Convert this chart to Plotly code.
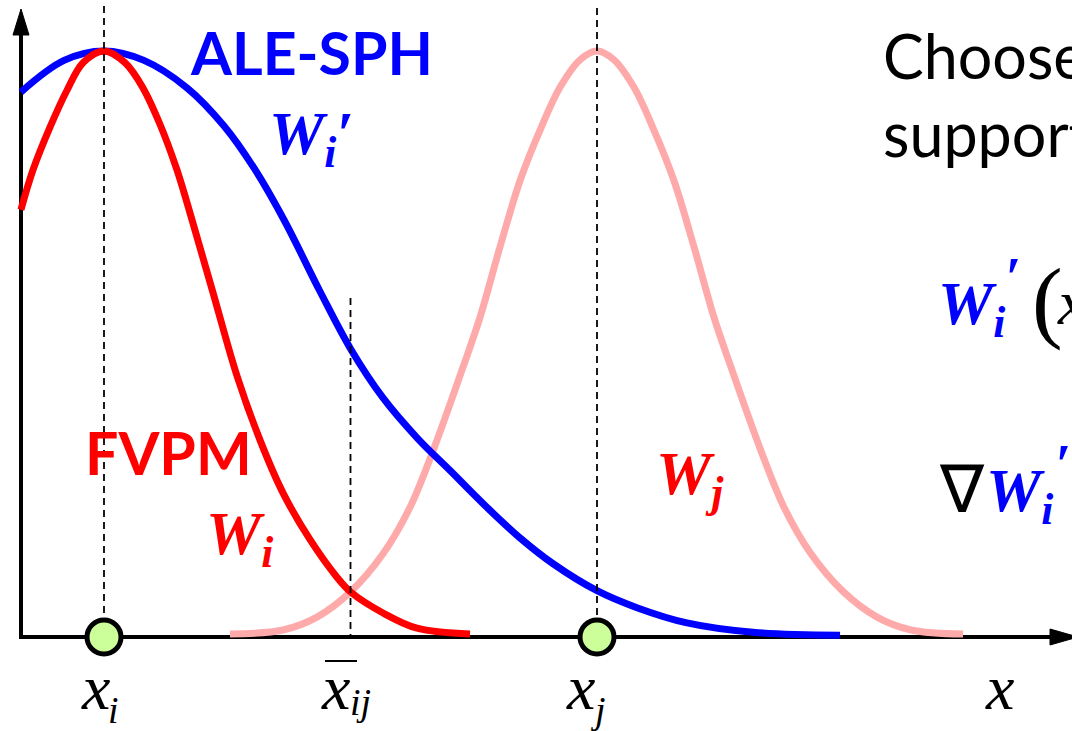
import plotly.graph_objects as go

# Node positions on the x axis (in units of half the particle spacing)
XI, XBAR, XJ = 0.0, 1.0, 2.0

# FVPM kernel W_i centred on x_i
fvpm_wi_x = [-0.337, -0.288, -0.219, -0.150, -0.085, 0.0, 0.085, 0.158, 0.227, 0.296,
             0.361, 0.442, 0.540, 0.633, 0.726, 0.836, 0.945, 1.0, 1.132, 1.270, 1.485]
fvpm_wi_y = [0.729, 0.797, 0.870, 0.933, 0.980, 1.0, 0.980, 0.937, 0.875, 0.797,
             0.706, 0.588, 0.445, 0.336, 0.246, 0.166, 0.102, 0.077, 0.041, 0.015, 0.005]

# FVPM kernel W_j centred on x_j
fvpm_wj_x = [0.511, 0.726, 0.864, 1.0, 1.132, 1.241, 1.335, 1.456, 1.525, 1.606,
             1.688, 1.769, 1.850, 1.931, 2.0, 2.069, 2.150, 2.231, 2.312, 2.394,
             2.475, 2.544, 2.665, 2.759, 2.868, 3.0, 3.136, 3.274, 3.485]
fvpm_wj_y = [0.005, 0.012, 0.034, 0.077, 0.142, 0.221, 0.318, 0.460, 0.545, 0.665,
             0.779, 0.865, 0.938, 0.985, 1.0, 0.985, 0.938, 0.865, 0.779, 0.665,
             0.545, 0.460, 0.318, 0.221, 0.142, 0.077, 0.034, 0.012, 0.005]

# ALE-SPH kernel W_i' (wider support) centred on x_i
alesph_wi_x = [-0.337, -0.162, 0.0, 0.162, 0.337, 0.487, 0.609, 0.730, 0.876, 1.0,
               1.132, 1.270, 1.404, 1.554, 1.688, 1.822, 2.0, 2.162, 2.365, 2.633, 2.986]
alesph_wi_y = [0.930, 0.984, 1.0, 0.984, 0.937, 0.872, 0.800, 0.712, 0.590, 0.492,
               0.408, 0.340, 0.284, 0.221, 0.169, 0.125, 0.079, 0.050, 0.024, 0.008, 0.003]

node_x = [XI, XJ]
node_y = [0.0, 0.0]

BLUE = "#0000FF"
RED = "#FF0000"
PINK = "#FFAAAA"
NODE_FILL = "#CCFF99"
SANS = "Lato"
SERIF = "Liberation Serif"

W, H = 1072, 731
X_RANGE = [-104 / 246.5, 968 / 246.5]
Y_RANGE = [-(H - 637) / 586, 637 / 586]


def px(x):
    return x / W


def py(y):
    return 1 - y / H


fig = go.Figure()

curve_style = dict(mode="lines", line_shape="spline", hoverinfo="skip", showlegend=False)
fig.add_trace(go.Scatter(x=fvpm_wj_x, y=fvpm_wj_y, line=dict(color=PINK, width=7, smoothing=1.0), **curve_style))
fig.add_trace(go.Scatter(x=alesph_wi_x, y=alesph_wi_y, line=dict(color=BLUE, width=7, smoothing=1.0), **curve_style))
fig.add_trace(go.Scatter(x=fvpm_wi_x, y=fvpm_wi_y, line=dict(color=RED, width=7, smoothing=1.0), **curve_style))

fig.add_trace(go.Scatter(
    x=node_x, y=node_y, mode="markers", hoverinfo="skip", showlegend=False,
    marker=dict(size=34, color=NODE_FILL, line=dict(color="black", width=5)),
))

shapes = []
# Coordinate axes with arrowheads
shapes.append(dict(type="line", xref="paper", yref="paper", layer="below",
                   x0=px(21), x1=px(21), y0=py(639), y1=py(32),
                   line=dict(color="black", width=4)))
shapes.append(dict(type="path", xref="paper", yref="paper", layer="below",
                   path=f"M {px(21)},{py(9)} L {px(13)},{py(35)} L {px(29)},{py(35)} Z",
                   fillcolor="black", line=dict(color="black", width=1)))
shapes.append(dict(type="line", xref="paper", yref="paper", layer="below",
                   x0=px(19), x1=px(1052), y0=py(637), y1=py(637),
                   line=dict(color="black", width=4)))
shapes.append(dict(type="path", xref="paper", yref="paper", layer="below",
                   path=f"M {px(1078)},{py(637)} L {px(1050)},{py(629)} L {px(1050)},{py(645)} Z",
                   fillcolor="black", line=dict(color="black", width=1)))

# Dashed guides through the nodes and the midpoint
dash = dict(color="black", width=1.8, dash="7px,5px")
shapes.append(dict(type="line", xref="x", yref="paper", x0=XI, x1=XI, y0=py(6), y1=py(616), line=dash))
shapes.append(dict(type="line", xref="x", yref="paper", x0=XJ, x1=XJ, y0=py(8), y1=py(616), line=dash))
shapes.append(dict(type="line", xref="x", yref="paper", x0=XBAR, x1=XBAR, y0=py(298), y1=py(637), line=dash))

# Overbar of the midpoint label
shapes.append(dict(type="line", xref="paper", yref="paper", x0=px(325), x1=px(357),
                   y0=py(661), y1=py(661), line=dict(color="black", width=2)))

annotations = []


def sans_label(text, x, baseline, size, color):
    # Lato: box centre sits about 0.387 em above the baseline
    center = baseline - 0.387 * size
    annotations.append(dict(
        text=text, x=px(x), y=py(center), xref="paper", yref="paper",
        xanchor="left", yanchor="middle", showarrow=False, borderpad=0,
        font=dict(family=SANS, size=size, color=color),
    ))


def serif_label(text, x, baseline, size, color):
    # Liberation Serif: box top sits 0.891 em above the baseline
    top = baseline - 0.891 * size
    annotations.append(dict(
        text=text, x=px(x), y=py(top), xref="paper", yref="paper",
        xanchor="left", yanchor="top", showarrow=False, borderpad=0,
        font=dict(family=SERIF, size=size, color=color),
    ))


sans_label("Choose", 882, 79, 61, "black")
sans_label("support", 882, 157, 61, "black")

sans_label("<b>ALE-SPH</b>", 189, 75, 59, BLUE)
serif_label("<b><i>W<sub>i</sub>′</i></b>", 268, 153, 62, BLUE)

sans_label("<b>FVPM</b>", 84, 475, 59, RED)
serif_label("<b><i>W<sub>i</sub></i></b>", 205, 553, 62, RED)

serif_label("<b><i>W<sub>j</sub></i></b>", 655, 493, 62, RED)

serif_label("<b><i>W<sub>i</sub></i></b>", 937, 323, 62, BLUE)
serif_label("<b><i>′</i></b>", 1004, 296, 56, BLUE)
serif_label("(", 1031, 330, 92, "black")
serif_label("<i>x</i>", 1056, 323, 64, "black")

serif_label("∇", 938, 511, 66, "black")
serif_label("<b><i>W<sub>i</sub></i></b>", 985, 510, 62, BLUE)
serif_label("<b><i>′</i></b>", 1054, 483, 56, BLUE)

serif_label("<i>x</i>", 80, 708, 64, "black")
serif_label("<i>i</i>", 107, 722, 38, "black")
serif_label("<i>x</i>", 320, 708, 64, "black")
serif_label("<i>ij</i>", 349, 714, 38, "black")
serif_label("<i>x</i>", 565, 708, 64, "black")
serif_label("<i>j</i>", 589, 722, 38, "black")
serif_label("<i>x</i>", 984, 708, 64, "black")

fig.update_layout(
    width=W, height=H,
    margin=dict(l=0, r=0, t=0, b=0),
    paper_bgcolor="white", plot_bgcolor="white",
    xaxis=dict(range=X_RANGE, visible=False, fixedrange=True),
    yaxis=dict(range=Y_RANGE, visible=False, fixedrange=True),
    shapes=shapes, annotations=annotations,
)

fig.write_html("out.html", config={"displayModeBar": False})
